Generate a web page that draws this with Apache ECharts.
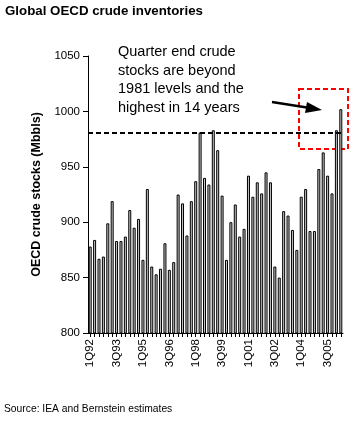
<!DOCTYPE html>
<html>
<head>
<meta charset="utf-8">
<script src="https://cdn.jsdelivr.net/npm/echarts@6/dist/echarts.min.js"></script>
<style>
html,body{margin:0;padding:0;background:#fff;}
#chart{width:363px;height:423px;}
</style>
</head>
<body>
<div id="chart"></div>
<script>
var quarters = ['1Q92','2Q92','3Q92','4Q92','1Q93','2Q93','3Q93','4Q93',
  '1Q94','2Q94','3Q94','4Q94','1Q95','2Q95','3Q95','4Q95',
  '1Q96','2Q96','3Q96','4Q96','1Q97','2Q97','3Q97','4Q97',
  '1Q98','2Q98','3Q98','4Q98','1Q99','2Q99','3Q99','4Q99',
  '1Q00','2Q00','3Q00','4Q00','1Q01','2Q01','3Q01','4Q01',
  '1Q02','2Q02','3Q02','4Q02','1Q03','2Q03','3Q03','4Q03',
  '1Q04','2Q04','3Q04','4Q04','1Q05','2Q05','3Q05','4Q05',
  '1Q06','2Q06'];
var stocks = [878,884,867,869,899,919,883,883,
  887,911,895,903,866,930,860,853,
  858,881,857,864,925,917,888,919,
  937,981,940,934,983,965,924,866,
  900,916,887,894,942,923,936,926,
  945,936,860,850,910,906,893,875,
  923,930,892,892,948,963,942,926,
  983,1002];
var level1981 = 981;
var yTicks = [800, 850, 900, 950, 1000, 1050];

var chart = echarts.init(document.getElementById('chart'));
var FONT = '"Liberation Sans", Arial, Helvetica, sans-serif';
chart.setOption({
  animation: false,
  backgroundColor: '#fff',
  textStyle: {fontFamily: FONT},
  title: {
    text: 'Global OECD crude inventories',
    left: 5, top: 5, padding: 0,
    textStyle: {fontSize: 13.3, fontWeight: 'bold', color: '#000', fontFamily: FONT}
  },
  grid: {left: 88, width: 255, top: 56, bottom: 90},
  xAxis: {
    type: 'category',
    data: quarters,
    boundaryGap: true,
    axisLine: {lineStyle: {color: '#000', width: 1}},
    axisTick: {show: true, interval: 0, alignWithLabel: true, length: 4, lineStyle: {color: '#000'}},
    axisLabel: {interval: 5, rotate: 90, fontSize: 11.5, color: '#000', margin: 6, fontFamily: FONT}
  },
  yAxis: {
    type: 'value',
    min: yTicks[0], max: yTicks[yTicks.length - 1], interval: 50,
    name: 'OECD crude stocks (Mbbls)',
    nameLocation: 'middle',
    nameGap: 42,
    nameTextStyle: {fontSize: 12.5, fontWeight: 'bold', color: '#000', fontFamily: FONT},
    axisLine: {show: true, lineStyle: {color: '#000', width: 1}},
    axisTick: {show: true, length: 5, lineStyle: {color: '#000'}},
    axisLabel: {fontSize: 11.5, color: '#000', margin: 8, fontFamily: FONT,
      formatter: function (v) { return String(v); }},
    splitLine: {show: false}
  },
  series: [{
    type: 'bar',
    data: stocks,
    barWidth: 3,
    itemStyle: {color: '#c4c4c4', borderColor: '#000', borderWidth: 1},
    markLine: {
      silent: true,
      symbol: 'none',
      label: {show: false},
      lineStyle: {color: '#000', type: [5, 3], width: 2},
      data: [{yAxis: level1981}]
    }
  }],
  graphic: [
    {
      type: 'text', left: 118, top: 43,
      style: {
        text: 'Quarter end crude\nstocks are beyond\n1981 levels and the\nhighest in 14 years',
        font: '14.5px ' + FONT, fill: '#000', lineHeight: 18.5
      }
    },
    {
      type: 'rect',
      shape: {x: 299, y: 89, width: 49, height: 60},
      style: {fill: 'none', stroke: '#ff0000', lineWidth: 2, lineDash: [5, 3]}
    },
    {
      type: 'line',
      shape: {x1: 272, y1: 102, x2: 310, y2: 108},
      style: {stroke: '#000', lineWidth: 2.5}
    },
    {
      type: 'polygon',
      shape: {points: [[322, 110], [307, 102], [305, 113]]},
      style: {fill: '#000'}
    },
    {
      type: 'text', left: 4, top: 404,
      style: {text: 'Source: IEA and Bernstein estimates', font: '10.3px ' + FONT, fill: '#000'}
    }
  ]
});
</script>
</body>
</html>
